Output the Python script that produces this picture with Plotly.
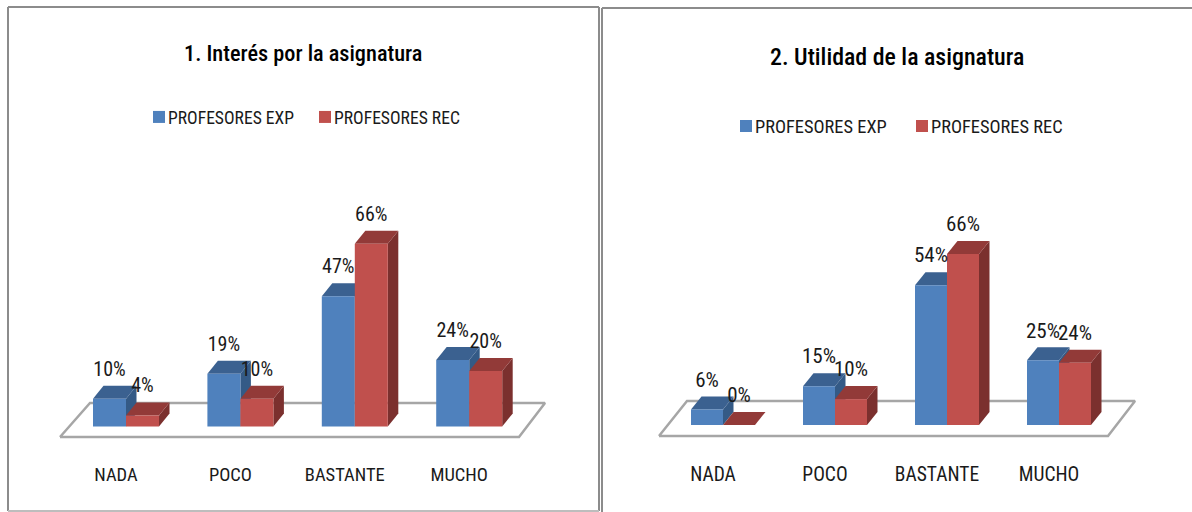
import plotly.graph_objects as go

W, H = 1192, 512

# ---- data ----
categories = ["NADA", "POCO", "BASTANTE", "MUCHO"]
series_names = ["PROFESORES EXP", "PROFESORES REC"]
titles = ["1. Interés por la asignatura", "2. Utilidad de la asignatura"]
chart1_exp = [10, 19, 47, 24]
chart1_rec = [4, 10, 66, 20]
chart2_exp = [6, 15, 54, 25]
chart2_rec = [0, 10, 66, 24]

# ---- styling ----
FONT = "Roboto Condensed"
FRONT = ["#4F81BD", "#C0504D"]
TOP = ["#3B6190", "#923A38"]
SIDE = ["#345A86", "#7B302E"]
INK = "#1A1A1A"
FRAME = "#8C8C8C"

# pixel geometry of each panel
panels = [
    dict(exp=chart1_exp, rec=chart1_rec, title=titles[0], x0=126.0, step=114.4, bw=33.0, base=426.5, ppu=2.77,
         floor_front=(60, 519), floor_back=(90, 545), floor_y=(437, 403), title_xy=(303, 53), tsize=22.3,
         leg_xy=(128, 117), entry=121, lsize=17.6, fsize=20, tfsize=18.5, tick_y=473, lab_off=28),
    dict(exp=chart2_exp, rec=chart2_rec, title=titles[1], x0=723.0, step=112.0, bw=32.0, base=425.0, ppu=2.59,
         floor_front=(659, 1108), floor_back=(687, 1135), floor_y=(436, 401), title_xy=(897, 57), tsize=23.9,
         leg_xy=(715, 126), entry=131, lsize=18.4, fsize=21, tfsize=19.5, tick_y=472, lab_off=28),
]
DX, DY = 10.5, 13.0


def px_x(p, px):
    return (px - p["x0"]) / p["step"]


def px_y(p, py):
    return (p["base"] - py) / p["ppu"]


fig = go.Figure()
layout_axes = {}
shapes = []
annots = []

for n, p in enumerate(panels):
    a = 2 * n + 1
    b = 2 * n + 2
    xl, yl = f"x{a}", f"y{a}"
    xo, yo = f"x{b}", f"y{b}"
    dom = [0.0, 600 / W] if n == 0 else [600 / W, 1.0]
    pxl = 0 if n == 0 else 600
    pxr = 600 if n == 0 else W
    xr = [px_x(p, pxl), px_x(p, pxr)]
    yr = [px_y(p, H), px_y(p, 0)]
    bw = p["bw"] / p["step"]
    ddx, ddy = DX / p["step"], DY / p["ppu"]
    idx = list(range(len(categories)))

    # floor
    fx = [px_x(p, p["floor_front"][0]), px_x(p, p["floor_front"][1]), px_x(p, p["floor_back"][1]), px_x(p, p["floor_back"][0]), px_x(p, p["floor_front"][0])]
    fy = [px_y(p, p["floor_y"][0])] * 2 + [px_y(p, p["floor_y"][1])] * 2 + [px_y(p, p["floor_y"][0])]
    fig.add_trace(go.Scatter(x=fx, y=fy, mode="lines", fill="toself", fillcolor="#FFFFFF",
                             line=dict(color="#A6A6A6", width=2.5), showlegend=False, hoverinfo="skip",
                             xaxis=xl, yaxis=yl))

    # depth faces, back to front per category
    for i in idx:
        for s, vals in enumerate([p["exp"], p["rec"]]):
            v = vals[i]
            l = i - bw + s * bw
            r = l + bw
            fig.add_trace(go.Scatter(x=[r, r + ddx, r + ddx, r, r], y=[0, ddy, v + ddy, v, 0], mode="none",
                                     fill="toself", fillcolor=SIDE[s], showlegend=False, hoverinfo="skip",
                                     xaxis=xl, yaxis=yl))
            fig.add_trace(go.Scatter(x=[l, r, r + ddx, l + ddx, l], y=[v, v, v + ddy, v + ddy, v], mode="none",
                                     fill="toself", fillcolor=TOP[s], showlegend=False, hoverinfo="skip",
                                     xaxis=xl, yaxis=yl))

    # front faces as real bars on the overlay axes
    leg = "legend" if n == 0 else "legend2"
    for s, vals in enumerate([p["exp"], p["rec"]]):
        fig.add_trace(go.Bar(x=idx, y=vals, width=bw, offset=(-bw + s * bw), name=series_names[s],
                             marker=dict(color=FRONT[s], line=dict(width=0)), xaxis=xo, yaxis=yo,
                             legend=leg, showlegend=True))

    # data labels
    for s, vals in enumerate([p["exp"], p["rec"]]):
        fig.add_trace(go.Scatter(x=[i - bw / 2 + s * bw for i in idx],
                                 y=[v + p["lab_off"] / p["ppu"] for v in vals],
                                 text=[f"{v}%" for v in vals], mode="text", textposition="middle center",
                                 textfont=dict(family=FONT, size=p["fsize"], color=INK), showlegend=False,
                                 hoverinfo="skip", xaxis=xo, yaxis=yo))

    common = dict(showgrid=False, zeroline=False, showline=False, ticks="")
    layout_axes[f"xaxis{a}"] = dict(domain=dom, range=xr, anchor="free", position=(H - p["tick_y"] + 12) / H,
                                    tickmode="array", tickvals=[i - 10 / p["step"] for i in idx],
                                    ticktext=categories, tickfont=dict(family=FONT, size=p["tfsize"], color=INK), **common)
    layout_axes[f"yaxis{a}"] = dict(domain=[0, 1], range=yr, anchor=xl, showticklabels=False, **common)
    layout_axes[f"xaxis{b}"] = dict(domain=dom, range=xr, overlaying=xl, showticklabels=False, anchor=yo, **common)
    layout_axes[f"yaxis{b}"] = dict(domain=[0, 1], range=yr, overlaying=yl, showticklabels=False, anchor=xo, **common)

    annots.append(dict(text=p["title"], xref="paper", yref="paper", x=p["title_xy"][0] / W,
                       y=1 - p["title_xy"][1] / H, xanchor="center", yanchor="middle", showarrow=False,
                       font=dict(family=FONT, size=p["tsize"], color="#000000", weight=500)))
    layout_axes["legend" if n == 0 else "legend2"] = dict(
        orientation="h", x=p["leg_xy"][0] / W, y=1 - p["leg_xy"][1] / H, xanchor="left", yanchor="middle",
        font=dict(family=FONT, size=p["lsize"], color=INK), bgcolor="rgba(0,0,0,0)",
        entrywidth=p["entry"], entrywidthmode="pixels", itemclick=False, itemdoubleclick=False)


def line(x0, y0, x1, y1, color=FRAME, width=2):
    return dict(type="line", xref="paper", yref="paper", x0=x0 / W, x1=x1 / W, y0=1 - y0 / H, y1=1 - y1 / H,
                line=dict(color=color, width=width), layer="below")


shapes += [line(8, 7, 599, 7), line(8, 7, 8, 511), line(599, 7, 599, 511),
           line(8, 511, 599, 511, "#BDBDBD"), line(602, 8, 1192, 8), line(602, 8, 602, 512)]

fig.update_layout(width=W, height=H, margin=dict(l=0, r=0, t=0, b=0), paper_bgcolor="#FFFFFF",
                  plot_bgcolor="rgba(0,0,0,0)", barmode="overlay", shapes=shapes, annotations=annots,
                  **layout_axes)

# page margin removed; legend swatches nudged next to their text as in the reference
post = """
document.body.style.margin='0';document.body.style.overflow='hidden';
setTimeout(function(){
  document.querySelectorAll('.legendsymbols').forEach(function(e){
    e.setAttribute('transform','translate(11,0)');
  });
},30);
"""
fig.write_html("out.html", post_script=post, config={"displayModeBar": False})
